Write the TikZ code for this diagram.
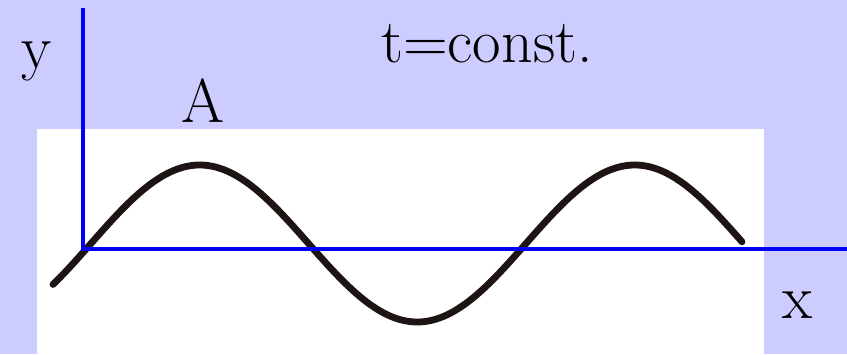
\documentclass[tikz,border=0pt]{standalone}
\usepackage{tikz}

\definecolor{slidebg}{HTML}{CCCCFF}
\definecolor{axisblue}{HTML}{0000F5}
\definecolor{inkdark}{HTML}{1E1414}

\tikzset{
  axis/.style={draw=axisblue,line width=2.2pt},
  wave/.style={draw=inkdark,line width=3.4pt,line cap=round},
  lbl/.style={anchor=base,inner sep=0pt,font=\fontsize{31}{36}\selectfont}
}

\begin{document}
\begin{tikzpicture}[x=0.5pt,y=-0.5pt]
  % slide background and the pasted white panel
  \fill[slidebg] (0,0) rectangle (847,354);
  \useasboundingbox (0,0) rectangle (847,354);
  \fill[white] (37,129) rectangle (764,354);

  \coordinate (origin) at (83,249);
  \coordinate (ytop) at (83,8);
  \coordinate (xend) at (847,249);

  % the wave at a fixed time
  \draw[wave] plot[domain=53:742,samples=150,smooth]
    (\x,{243.5-78.5*sin(0.827586*(\x-91))});

  \draw[axis] (ytop) -- (origin) -- (xend);

  \node[lbl] (ylabel) at (37,68) {y};
  \node[lbl] (xlabel) at (798,318) {x};
  \node[lbl] (amp) at (203,122) {A};
  \node[lbl] (timelabel) at (487,62) {t=const.};
\end{tikzpicture}
\end{document}
